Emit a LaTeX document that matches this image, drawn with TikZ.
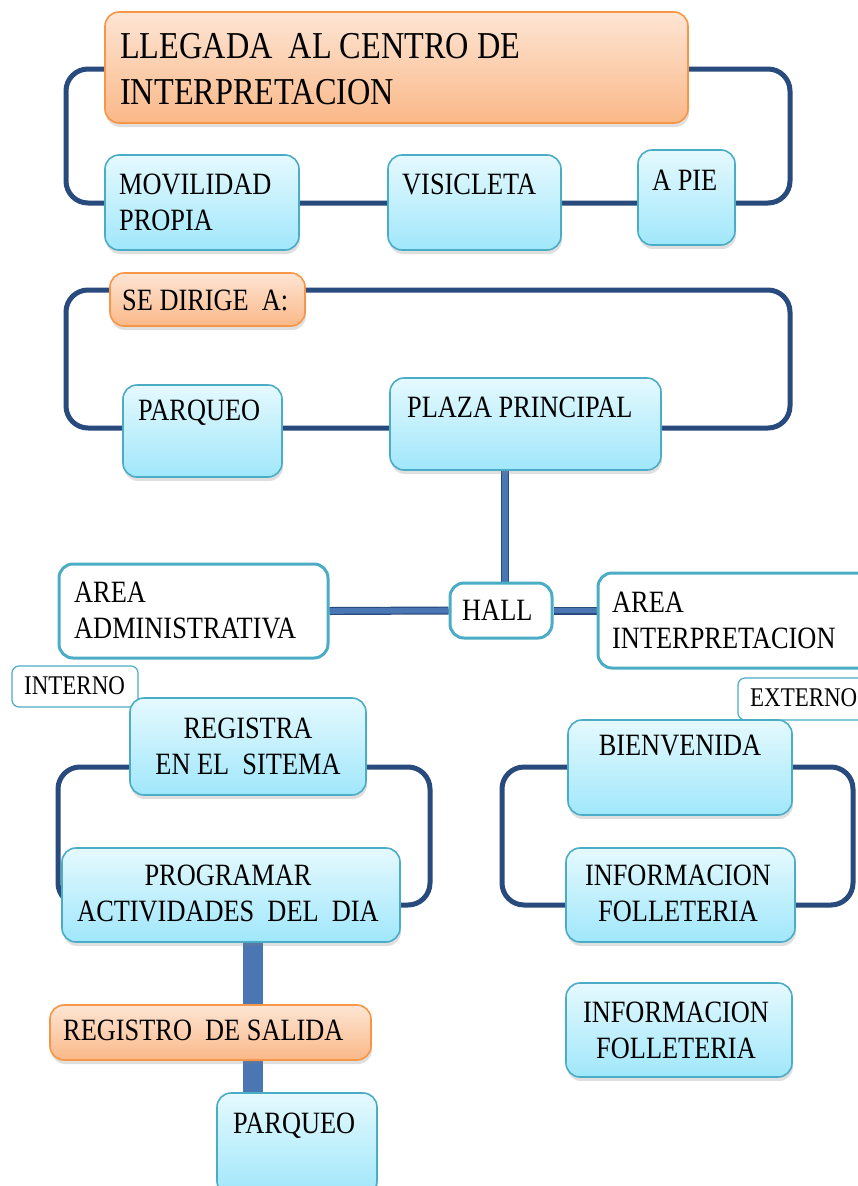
\documentclass[tikz,border=0pt]{standalone}
\usepackage{fontspec}
\setmainfont[FakeStretch=0.85]{Liberation Serif}
\usetikzlibrary{shapes,positioning,calc,shadows,backgrounds}

\definecolor{loopblue}{RGB}{41,74,124}
\definecolor{linkblue}{RGB}{74,118,180}
\definecolor{tealedge}{RGB}{75,172,198}
\definecolor{skytop}{RGB}{229,249,254}
\definecolor{skybot}{RGB}{160,231,251}
\definecolor{peachtop}{RGB}{253,229,212}
\definecolor{peachbot}{RGB}{250,184,136}
\definecolor{peachedge}{RGB}{247,150,70}

\begin{document}
\begin{tikzpicture}[x=1pt, y=-1pt,
    skybox/.style={rectangle, rounded corners=14pt, draw=tealedge, line width=1.6pt, top color=skytop, bottom color=skybot, inner sep=0pt,
        drop shadow={shadow xshift=1pt, shadow yshift=-4pt, opacity=0.25}},
    peachbox/.style={skybox, draw=peachedge, top color=peachtop, bottom color=peachbot},
    plainbox/.style={rectangle, rounded corners=14pt, draw=tealedge, line width=3pt, fill=white, inner sep=0pt},
    tagbox/.style={plainbox, rounded corners=7pt, line width=1.2pt},
    loopline/.style={draw=loopblue, line width=5pt, rounded corners=22pt},
    hlink/.style={draw=loopblue, line width=1.2pt, double=linkblue, double distance=5.6pt},
    spinelink/.style={draw=linkblue, line width=20pt},
    txt/.style={inner sep=0pt, align=left, font=\fontsize{31}{36}\selectfont},
    bigtxt/.style={txt, font=\fontsize{38}{46}\selectfont},
    smalltxt/.style={txt, font=\fontsize{27}{32}\selectfont}
]
\clip (0,0) rectangle (858,1186);

% loops behind the boxes
\coordinate (loopA1) at (66,69);
\coordinate (loopA2) at (790,203);
\coordinate (loopB1) at (66,290);
\coordinate (loopB2) at (790,428);
\coordinate (loopC1) at (58,767);
\coordinate (loopC2) at (430,905);
\coordinate (loopD1) at (502,767);
\coordinate (loopD2) at (853,905);
\draw[loopline] (loopA1) rectangle (loopA2);
\draw[loopline] (loopB1) rectangle (loopB2);
\draw[loopline] (loopC1) rectangle (loopC2);
\draw[loopline] (loopD1) rectangle (loopD2);

% arrival
\node[peachbox, minimum width=583pt, minimum height=111pt] (llegada) at (396.5,67.5) {};
\node[skybox, minimum width=194pt, minimum height=95pt] (movil) at (202,202.5) {};
\node[skybox, minimum width=173pt, minimum height=95pt] (visi) at (474.5,202.5) {};
\node[skybox, minimum width=97pt, minimum height=95pt] (apie) at (686.5,197.5) {};

% se dirige
\node[peachbox, minimum width=195pt, minimum height=53pt] (dirige) at (207.5,299.5) {};
\node[skybox, minimum width=159pt, minimum height=92pt] (parqueo) at (202.5,431) {};
\node[skybox, minimum width=271pt, minimum height=92pt] (plaza) at (525.5,424) {};

% hall
\node[plainbox, minimum width=102pt, minimum height=55pt] (hall) at (501,610.5) {};
\node[plainbox, minimum width=269pt, minimum height=94pt] (admin) at (193.5,611) {};
\node[plainbox, minimum width=282pt, minimum height=95pt] (interp) at (739,620.5) {};
\node[tagbox, minimum width=126pt, minimum height=41pt] (interno) at (75,686.5) {};
\node[tagbox, minimum width=142pt, minimum height=42pt] (externo) at (809,699) {};

% internal branch
\node[skybox, minimum width=236pt, minimum height=97pt] (registra) at (248,746.5) {};
\node[skybox, minimum width=338pt, minimum height=94pt] (prog) at (231,895) {};
\node[peachbox, minimum width=321pt, minimum height=55pt] (salida) at (210.5,1032.5) {};
\node[skybox, minimum width=160pt, minimum height=102pt] (parqueoB) at (297,1144) {};

% external branch
\node[skybox, minimum width=224pt, minimum height=95pt] (bienv) at (680,767.5) {};
\node[skybox, minimum width=229pt, minimum height=94pt] (infoA) at (680.5,895) {};
\node[skybox, minimum width=226pt, minimum height=94pt] (infoB) at (679,1030) {};

% links under the boxes
\coordinate (spine) at (253,0);
\coordinate (stem) at (505,0);
\begin{pgfonlayer}{background}
\draw[hlink] (stem |- hall.north) -- (stem |- plaza.south);
\draw[hlink] (admin.east) -- (hall.west);
\draw[hlink] (hall.east) -- (hall.east -| interp.west);
\draw[spinelink] (spine |- prog.south) -- (spine |- parqueoB.north);
\end{pgfonlayer}

% texts
\node[bigtxt, anchor=north west] (t-llegada) at (120,33) {LLEGADA\ \ AL CENTRO DE\\INTERPRETACION};
\node[txt, anchor=north west] (t-movil) at (119,174) {MOVILIDAD\\PROPIA};
\node[txt, anchor=north west] (t-visi) at (402,174) {VISICLETA};
\node[txt, anchor=north west] (t-apie) at (652,170) {A PIE};
\node[txt, anchor=north west] (t-dirige) at (122,290) {SE DIRIGE\ \ A:};
\node[txt, anchor=north west] (t-parqueo) at (138,400) {PARQUEO};
\node[txt, anchor=north west] (t-plaza) at (407,397) {PLAZA PRINCIPAL};
\node[txt, anchor=north west] (t-hall) at (462,600) {HALL};
\node[txt, anchor=north west] (t-admin) at (74,582) {AREA\\ADMINISTRATIVA};
\node[txt, anchor=north west] (t-interp) at (612,592) {AREA\\INTERPRETACION};
\node[smalltxt, anchor=north west] (t-interno) at (24,676) {INTERNO};
\node[smalltxt, anchor=north west] (t-externo) at (750,688) {EXTERNO};
\node[txt, align=center, anchor=north] (t-registra) at (248,718) {REGISTRA\\EN EL\ \ SITEMA};
\node[txt, align=center, anchor=north] (t-prog) at (228,865) {PROGRAMAR\\ACTIVIDADES\ \ DEL\ \ DIA};
\node[txt, anchor=north west] (t-salida) at (63,1020) {REGISTRO\ \ DE SALIDA};
\node[txt, anchor=north west] (t-parqueoB) at (233,1113) {PARQUEO};
\node[txt, align=center, anchor=north] (t-bienv) at (680,735) {BIENVENIDA};
\node[txt, align=center, anchor=north] (t-infoA) at (678,865) {INFORMACION\\FOLLETERIA};
\node[txt, align=center, anchor=north] (t-infoB) at (676,1002) {INFORMACION\\FOLLETERIA};

\end{tikzpicture}
\end{document}
